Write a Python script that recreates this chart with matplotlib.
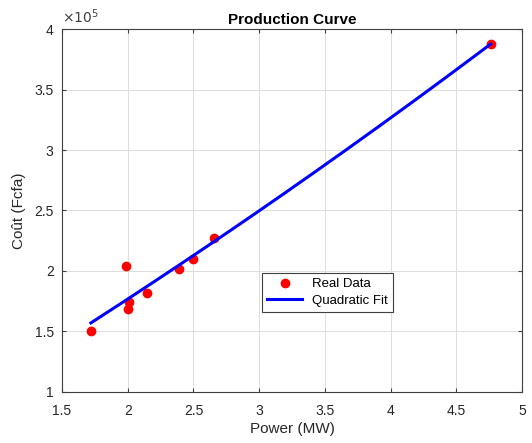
import numpy as np
import matplotlib.pyplot as plt
from matplotlib.ticker import FuncFormatter

# puissance (MW) et cout (Fcfa)
power = [1.72, 1.99, 2.01, 2.00, 2.15, 2.39, 2.50, 2.66, 4.76]
cost = [150000, 204000, 174000, 168000, 181500, 201800, 209500, 227000, 387800]

plt.rcParams['font.family'] = ['Liberation Sans', 'DejaVu Sans']

fig = plt.figure(figsize=(5.32, 4.43), dpi=100)
ax = fig.add_axes([0.1165, 0.116, 0.865, 0.818])

# ajuste cuadratico
coef = np.polyfit(power, cost, 2)
xf = np.linspace(min(power), max(power), 200)
yf = np.polyval(coef, xf)

ax.plot(power, cost, 'o', color='red', markersize=6, label='Real Data')
ax.plot(xf, yf, '-', color='blue', linewidth=2.2, label='Quadratic Fit')

ax.set_xlim(1.5, 5)
ax.set_ylim(1e5, 4e5)
ax.set_xticks(np.arange(1.5, 5.01, 0.5))
ax.set_xticklabels(['1.5', '2', '2.5', '3', '3.5', '4', '4.5', '5'])
ax.set_yticks(np.arange(1e5, 4.01e5, 0.5e5))
ax.yaxis.set_major_formatter(FuncFormatter(lambda v, p: '%g' % (v / 1e5)))
ax.text(0.0, 1.01, r'$\times10^5$', transform=ax.transAxes, ha='left', va='bottom',
        fontsize=10, color='#404040')

ax.grid(True, color='#dcdcdc', linewidth=0.7)
ax.set_axisbelow(True)
for s in ax.spines.values():
    s.set_color('#404040')
    s.set_linewidth(0.8)
ax.tick_params(direction='in', top=True, right=True, colors='#404040',
               labelcolor='#262626', labelsize=10, length=3)
ax.tick_params(axis='x', pad=9)
ax.tick_params(axis='y', pad=6)

ax.set_title('Production Curve', fontsize=11, fontweight='bold', pad=4)
ax.set_xlabel('Power (MW)', fontsize=11, color='#262626', labelpad=3)
ax.set_ylabel('Coût (Fcfa)', fontsize=11, color='#262626', labelpad=6)

leg = ax.legend(loc='lower left', bbox_to_anchor=(0.435, 0.22), borderaxespad=0,
                fancybox=False, framealpha=1, edgecolor='#404040', fontsize=9.5,
                handlelength=2.6, borderpad=0.4, labelspacing=0.3)
leg.get_frame().set_linewidth(0.8)

fig.savefig('out.png', dpi=100)
